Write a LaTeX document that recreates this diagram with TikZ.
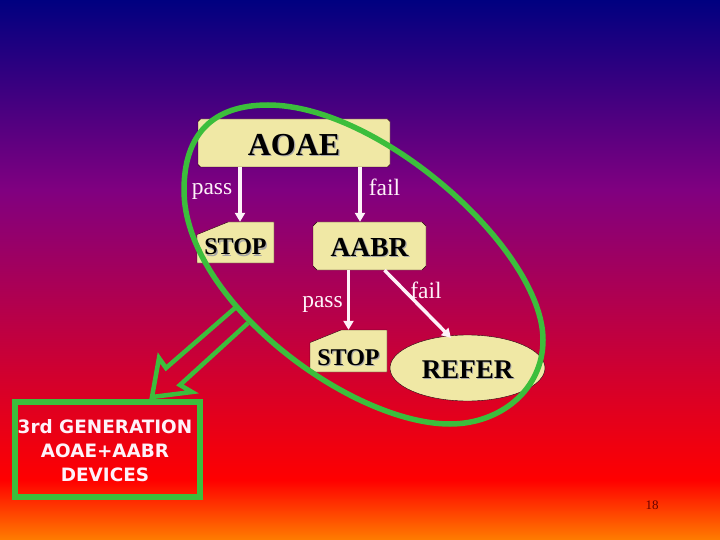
\documentclass[tikz,border=0pt]{standalone}
\usepackage{fontspec}
\usepackage{tikz}
\usetikzlibrary{shapes.geometric,shapes.misc,arrows.meta}
\setmainfont{Liberation Serif}
\newfontfamily\boxfont{DejaVu Sans}
\definecolor{boxfill}{RGB}{240,232,165}
\definecolor{ringgreen}{RGB}{60,190,60}
\newcommand{\shadowed}[2]{\smash{\raisebox{-#1pt}{\makebox[0pt][l]{\hspace{1.2pt}\raisebox{-1.2pt}{\textcolor{black!35}{#2}}}#2}}}
\tikzset{
  chambox/.style={chamfered rectangle, chamfered rectangle xsep=2.5pt, chamfered rectangle ysep=2.5pt, draw=black!80!purple, fill=boxfill, inner sep=0pt},
  stopbox/.style={chamfered rectangle, chamfered rectangle corners=north west, chamfered rectangle angle=68, chamfered rectangle xsep=15pt, chamfered rectangle ysep=15pt, draw=black!80!purple, fill=boxfill, inner sep=0pt, minimum width=77pt, font=\bfseries\fontsize{24}{24}\selectfont},
  flow/.style={-{Triangle[width=10pt,length=9pt]}, white!95!magenta, line width=3.5pt},
  label/.style={white!95!magenta, font=\fontsize{23.5}{24}\selectfont},
  ring/.style={draw=ringgreen, line width=5.5pt}
}
\begin{document}
\begin{tikzpicture}[x=1pt, y=-1pt]

        \useasboundingbox (0,0) rectangle (720,540);
        \shade [top color={rgb,255:red,0;green,0;blue,128}, bottom color={rgb,255:red,128;green,0;blue,128}] (0,0) rectangle (720,190);
        \shade [top color={rgb,255:red,128;green,0;blue,128}, bottom color={rgb,255:red,255;green,0;blue,0}] (0,190) rectangle (720,480);
        \shade [top color={rgb,255:red,255;green,0;blue,0}, bottom color={rgb,255:red,255;green,125;blue,0}] (0,480) rectangle (720,540);

        \node [chambox, minimum width=192pt, minimum height=48pt, font=\bfseries\fontsize{32}{32}\selectfont] (aoae) at (294,143) {\shadowed{12.5}{AOAE}};
        \node [chambox, chamfered rectangle xsep=4pt, chamfered rectangle ysep=4pt, minimum width=113pt, minimum height=48pt, font=\bfseries\fontsize{27.5}{28}\selectfont] (aabr) at (369.5,246) {\shadowed{10}{AABR}};
        \node [stopbox, minimum height=41pt] (stopa) at (235.5,242.5) {\shadowed{12.5}{STOP}};
        \node [stopbox, minimum height=42pt] (stopb) at (348.5,351) {\shadowed{14}{STOP}};
        \node [ellipse, draw=black!80!purple, fill=boxfill, minimum width=155pt, minimum height=66pt, inner sep=0pt, font=\bfseries\fontsize{27}{28}\selectfont] (refer) at (467.5,368) {\shadowed{10}{REFER}};

        \draw [flow] (aoae.south -| stopa.north) ++(4.5,0) coordinate (passa) -- (passa |- stopa.north);
        \draw [flow] (aoae.south -| aabr.north) ++(-9.5,0) coordinate (faila) -- (faila |- aabr.north);
        \draw [flow] (aabr.south -| stopb.north) coordinate (passb) -- (stopb.north);
        \draw [flow, shorten >=-3pt] (aabr.south) ++(15,0) coordinate (failb) -- (refer.120);

        \node [label] (passal) at (212,191) {pass};
        \node [label] (failal) at (384.5,187) {fail};
        \node [label] (passbl) at (322.5,304) {pass};
        \node [label] (failbl) at (426,290) {fail};

        \draw [ring] (184,190) .. controls (184,135) and (212,105) .. (268,105) .. controls (380,105) and (543,250) .. (543,340) .. controls (543,390) and (500,424) .. (450,424) .. controls (350,424) and (184,300) .. cycle;

        \node [draw=ringgreen, line width=6pt, minimum width=185pt, minimum height=95pt, inner sep=0pt] (devbox) at (107.5,449.5) {};
        \node [white!95!magenta, align=center, font=\boxfont\bfseries\fontsize{18.4}{24}\selectfont] (devtext) at (105,451) {3rd GENERATION\\AOAE+AABR\\DEVICES};

        \draw [draw=ringgreen, line width=4.5pt, line join=miter] (235,308) -- (166,368) -- (159,358) -- (152,397) -- (192,392) -- (180,385) -- (248,323);

        \node [black!60!red, font=\fontsize{13}{13}\selectfont] (pagenum) at (652,505) {18};
\end{tikzpicture}
\end{document}
